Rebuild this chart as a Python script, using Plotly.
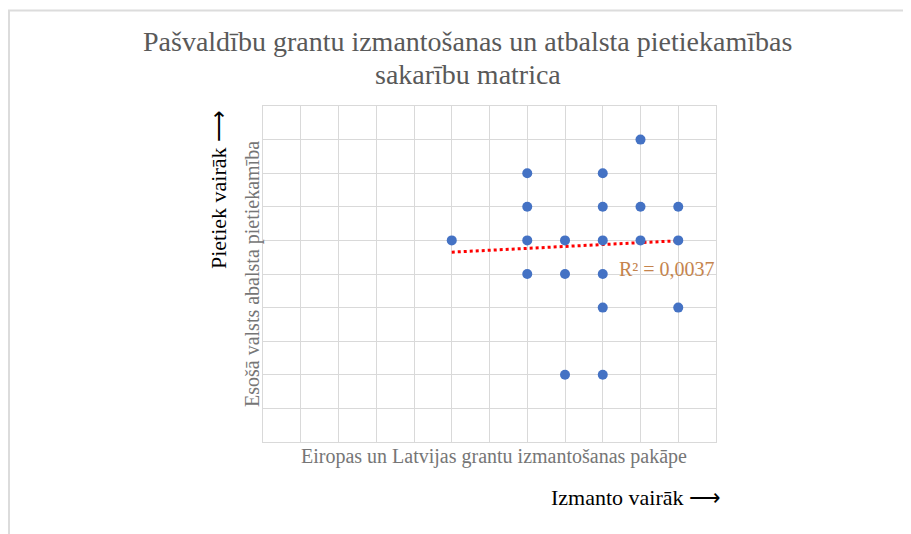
"""Pašvaldību grantu izmantošanas un atbalsta pietiekamības sakarību matrica."""

import plotly.graph_objects as go

# grantu izmantošanas pakāpe (x) un atbalsta pietiekamība (y)
grant_use = [10, 7, 9, 7, 9, 10, 11, 5, 7, 8, 9, 10, 11, 7, 8, 9, 9, 11, 8, 9]
support = [9, 8, 8, 7, 7, 7, 7, 6, 6, 6, 6, 6, 6, 5, 5, 5, 4, 4, 2, 2]

# lineārā tendences līnija (nolasīta no attēla)
trend_x = [5, 11]
trend_y = [5.65, 5.99]
r2_text = "R² = 0,0037"

title_lines = ["Pašvaldību grantu izmantošanas un atbalsta pietiekamības", "sakarību matrica"]

FONT = "Liberation Serif, Times New Roman, serif"
GRID = "#d9d9d9"

fig = go.Figure()
fig.add_trace(go.Scatter(
    x=trend_x, y=trend_y, mode="lines", showlegend=False, hoverinfo="skip",
    line=dict(color="#ff0000", width=3, dash="dot"),
))
fig.add_trace(go.Scatter(
    x=grant_use, y=support, mode="markers", showlegend=False,
    marker=dict(color="#4472c4", size=10),
))

# virsraksts (divas rindas)
for line, ypos in zip(title_lines, [1.1905, 1.0923]):
    fig.add_annotation(x=0.4525, y=ypos, xref="paper", yref="paper", text=line,
                       showarrow=False, xanchor="center", yanchor="middle",
                       font=dict(family=FONT, size=28, color="#595959"))

fig.add_annotation(x=9.38, y=5.15, xref="x", yref="y", text=r2_text, showarrow=False,
                   xanchor="left", yanchor="middle",
                   font=dict(family=FONT, size=20, color="#c5844d"))
# ass nosaukumi
fig.add_annotation(x=-0.0993, y=0.75, xref="paper", yref="paper", text="Pietiek vairāk ⟶",
                   textangle=-90, showarrow=False, xanchor="center", yanchor="middle",
                   font=dict(family=FONT, size=22, color="#000000"))
fig.add_annotation(x=-0.0243, y=0.5, xref="paper", yref="paper",
                   text="Esošā valsts abalsta pietiekamība",
                   textangle=-90, showarrow=False, xanchor="center", yanchor="middle",
                   font=dict(family=FONT, size=20, color="#767676"))
fig.add_annotation(x=0.511, y=-0.0446, xref="paper", yref="paper",
                   text="Eiropas un Latvijas grantu izmantošanas pakāpe",
                   showarrow=False, xanchor="center", yanchor="middle",
                   font=dict(family=FONT, size=20, color="#767676"))
fig.add_annotation(x=1.0155, y=-0.1637, xref="paper", yref="paper", text="Izmanto vairāk ⟶",
                   showarrow=False, xanchor="right", yanchor="middle",
                   font=dict(family=FONT, size=22, color="#000000"))

# ārējais rāmis
fig.add_shape(type="rect", xref="paper", yref="paper",
              x0=-0.5607, x1=1.5, y0=-0.4, y1=1.2842,
              line=dict(color="#dcdcdc", width=2), layer="below")

fig.update_xaxes(range=[0, 12], dtick=1, showticklabels=False, showgrid=True,
                 gridcolor=GRID, gridwidth=1, zeroline=False,
                 showline=True, linecolor=GRID, linewidth=1, mirror=True, fixedrange=True)
fig.update_yaxes(range=[0, 10], dtick=1, showticklabels=False, showgrid=True,
                 gridcolor=GRID, gridwidth=1, zeroline=False,
                 showline=True, linecolor=GRID, linewidth=1, mirror=True, fixedrange=True)

# lapai ir 8px noklusētā atkāpe, tāpēc attēls ir par 8px mazāks
fig.update_layout(
    width=903, height=526,
    margin=dict(l=255, r=195, t=98, b=92),
    plot_bgcolor="white", paper_bgcolor="white",
)

fig.write_html("out.html")
